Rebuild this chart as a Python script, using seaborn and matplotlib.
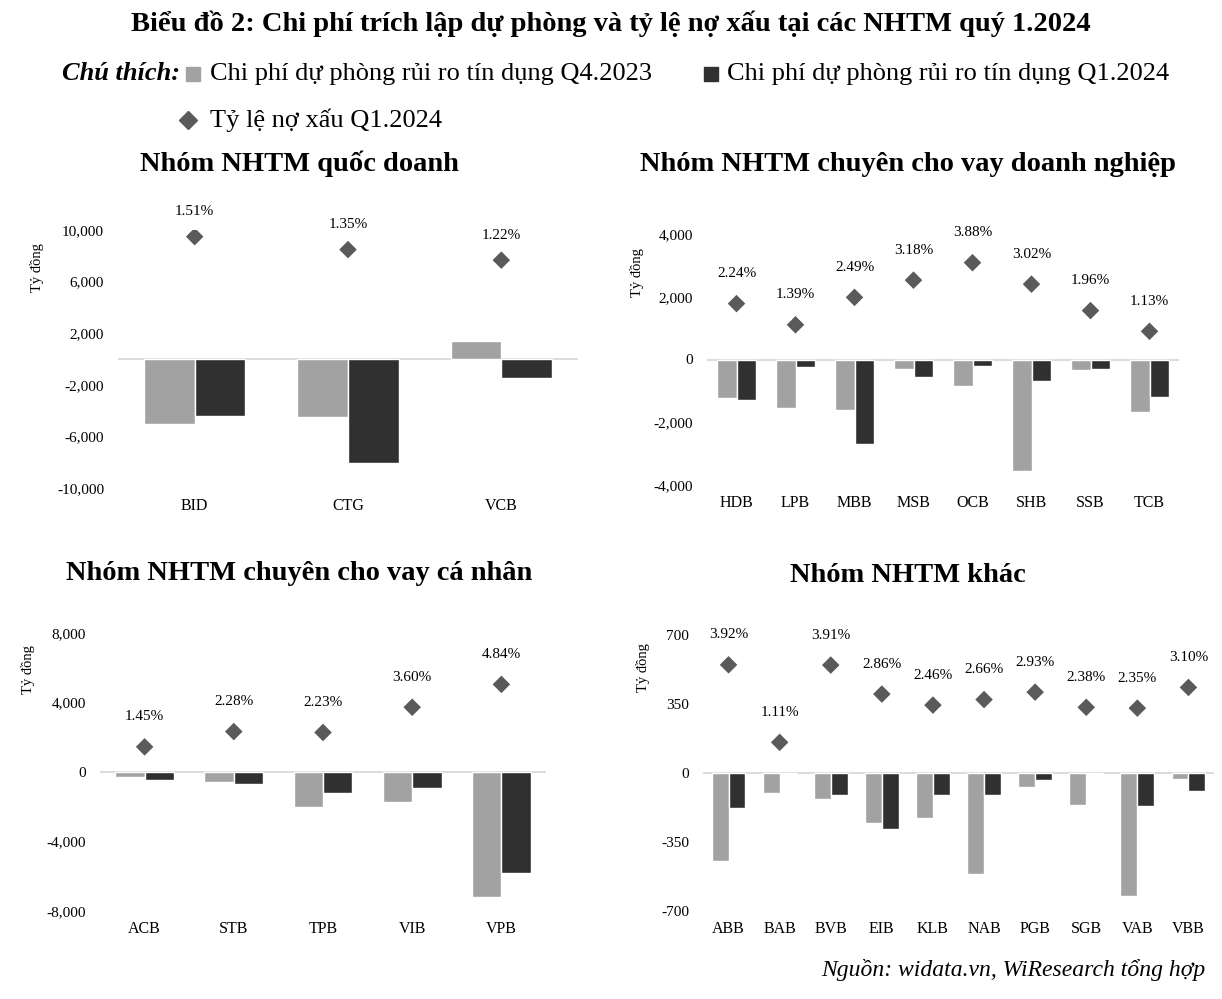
import numpy as np
import pandas as pd
import seaborn as sns
import matplotlib.pyplot as plt
from matplotlib.lines import Line2D
from matplotlib.ticker import FuncFormatter

# ===== data =====
series_names = ["Chi phí dự phòng rủi ro tín dụng Q4.2023",
                "Chi phí dự phòng rủi ro tín dụng Q1.2024"]
npl_name = "Tỷ lệ nợ xấu Q1.2024"

banks_qd = ["BID", "CTG", "VCB"]
q4_qd = [-5000, -4500, 1400]
q1_qd = [-4400, -8050, -1500]
npl_qd = [1.51, 1.35, 1.22]

banks_dn = ["HDB", "LPB", "MBB", "MSB", "OCB", "SHB", "SSB", "TCB"]
q4_dn = [-1240, -1550, -1600, -300, -850, -3550, -350, -1660]
q1_dn = [-1290, -250, -2700, -550, -200, -690, -300, -1190]
npl_dn = [2.24, 1.39, 2.49, 3.18, 3.88, 3.02, 1.96, 1.13]

banks_cn = ["ACB", "STB", "TPB", "VIB", "VPB"]
q4_cn = [-290, -580, -2020, -1750, -7170]
q1_cn = [-480, -670, -1230, -940, -5820]
npl_cn = [1.45, 2.28, 2.23, 3.60, 4.84]

banks_k = ["ABB", "BAB", "BVB", "EIB", "KLB", "NAB", "PGB", "SGB", "VAB", "VBB"]
q4_k = [-448, -101, -132, -252, -226, -512, -69, -162, -622, -29]
q1_k = [-179, 0, -110, -284, -110, -110, -37, 0, -166, -91]
npl_k = [3.92, 1.11, 3.91, 2.86, 2.46, 2.66, 2.93, 2.38, 2.35, 3.10]

# ===== style =====
sns.set_style("white")
plt.rcParams["font.family"] = ["Liberation Serif", "DejaVu Serif"]
plt.rcParams["text.color"] = "black"
plt.rcParams["xtick.color"] = "black"
plt.rcParams["ytick.color"] = "black"

C_LIGHT = "#a2a2a2"
C_DARK = "#303030"
C_DIAMOND = "#5a5a5a"
C_ZERO = "#d9d9d9"

W, H = 1222, 999
fig = plt.figure(figsize=(W / 100, H / 100), dpi=100)


def box(l, t, r, b):
    return [l / W, 1 - b / H, (r - l) / W, (b - t) / H]


def pt(x, y):
    return x / W, 1 - y / H


panels = [
    dict(title="Nhóm NHTM quốc doanh", banks=banks_qd, q4=q4_qd, q1=q1_qd, npl=npl_qd,
         ylim=(-10000, 10000), ticks=[-10000, -6000, -2000, 2000, 6000, 10000],
         npl_lim=(-1.592, 1.592), rect=(118, 230, 578, 488), title_xy=(299, 164),
         ylab_xy=(37, 268), lab_off=18),
    dict(title="Nhóm NHTM chuyên cho vay doanh nghiệp", banks=banks_dn, q4=q4_dn, q1=q1_dn,
         npl=npl_dn, ylim=(-4000, 4000), ticks=[-4000, -2000, 0, 2000, 4000],
         npl_lim=(-5.03, 5.03), rect=(707, 234, 1179, 485), title_xy=(908, 165),
         ylab_xy=(637, 273), lab_off=21.5),
    dict(title="Nhóm NHTM chuyên cho vay cá nhân", banks=banks_cn, q4=q4_cn, q1=q1_cn,
         npl=npl_cn, ylim=(-8000, 8000), ticks=[-8000, -4000, 0, 4000, 8000],
         npl_lim=(-7.46, 7.63), rect=(100, 633, 546, 911), title_xy=(299, 574),
         ylab_xy=(28, 670), lab_off=21.5),
    dict(title="Nhóm NHTM khác", banks=banks_k, q4=q4_k, q1=q1_k, npl=npl_k,
         ylim=(-700, 700), ticks=[-700, -350, 0, 350, 700],
         npl_lim=(-5.0, 5.0), rect=(703, 635, 1214, 911), title_xy=(908, 576),
         ylab_xy=(643, 668), lab_off=21.5),
]

fmt = FuncFormatter(lambda v, p: f"{v:,.0f}")

for p in panels:
    banks = p["banks"]
    n = len(banks)
    df = pd.DataFrame({
        "bank": banks * 2,
        "value": p["q4"] + p["q1"],
        "series": [series_names[0]] * n + [series_names[1]] * n,
    })
    ax = fig.add_axes(box(*p["rect"]))
    sns.barplot(data=df, x="bank", y="value", hue="series", order=banks,
                hue_order=series_names, palette=[C_LIGHT, C_DARK], width=0.66,
                saturation=1, errorbar=None, legend=False, ax=ax, zorder=2)
    ax.axhline(0, color=C_ZERO, lw=1.3, zorder=1)
    ax.set_ylim(*p["ylim"])
    ax.set_yticks(p["ticks"])
    ax.yaxis.set_major_formatter(fmt)
    ax.set_xlabel("")
    ax.set_ylabel("")
    ax.tick_params(axis="y", length=0, labelsize=11, pad=10, labelcolor="black")
    ax.tick_params(axis="x", length=0, labelsize=11.5, pad=7, labelcolor="black")
    sns.despine(ax=ax, left=True, bottom=True)

    ax2 = ax.twinx()
    sns.scatterplot(x=np.arange(n), y=p["npl"], marker="D", s=80, color=C_DIAMOND,
                    edgecolor="none", legend=False, ax=ax2, zorder=3)
    ax2.set_ylim(*p["npl_lim"])
    ax2.set_axis_off()
    for i, v in enumerate(p["npl"]):
        ax2.annotate(f"{v:.2f}%", (i, v), xytext=(0, p["lab_off"]),
                     textcoords="offset points", ha="center", va="center",
                     fontsize=11, color="black")
    ax.set_xlim(-0.5, n - 0.5)

    fig.text(*pt(*p["title_xy"]), p["title"], ha="center", va="center",
             fontsize=20.5, fontweight="bold", color="black")
    fig.text(*pt(*p["ylab_xy"]), "Tỷ đồng", rotation=90, ha="center", va="center",
             fontsize=10.5, color="black")

# ===== title & legend =====
fig.text(*pt(611, 24), "Biểu đồ 2: Chi phí trích lập dự phòng và tỷ lệ nợ xấu tại các NHTM quý 1.2024",
         ha="center", va="center", fontsize=20.5, fontweight="bold", color="black")
fig.text(*pt(62, 74), "Chú thích:", ha="left", va="center", fontsize=19,
         fontweight="bold", style="italic", color="black")

legend_items = [
    (193, 74, "s", C_LIGHT, 10, series_names[0], 210),
    (711, 74, "s", C_DARK, 10, series_names[1], 727),
    (188, 120, "D", C_DIAMOND, 9.5, npl_name, 210),
]
for mx, my, mk, col, ms, label, tx in legend_items:
    fig.add_artist(Line2D([mx / W], [1 - my / H], marker=mk, color=col, markersize=ms,
                          linestyle="none", transform=fig.transFigure))
    fig.text(*pt(tx, my), label, ha="left", va="center", fontsize=19, color="black")

fig.text(*pt(1205, 970), "Nguồn: widata.vn, WiResearch tổng hợp", ha="right", va="center",
         fontsize=17, style="italic", color="black")

fig.savefig("out.png", dpi=100)
